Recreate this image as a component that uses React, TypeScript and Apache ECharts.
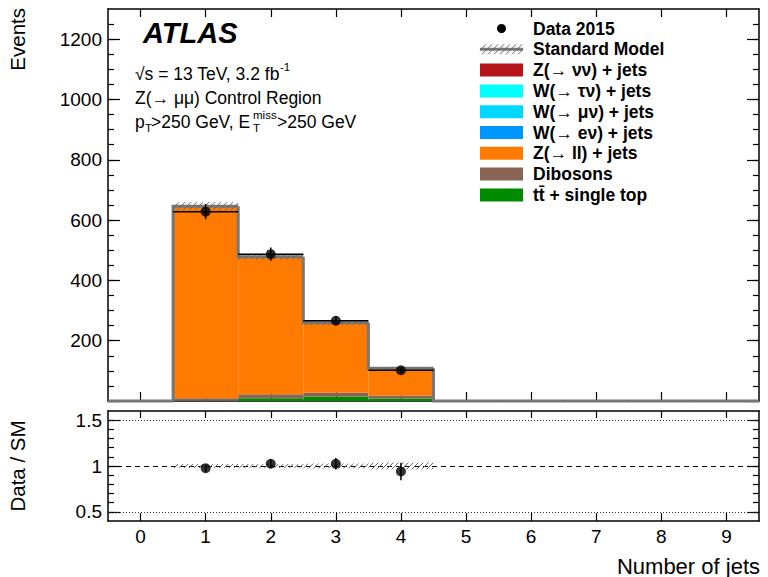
import React, { useEffect, useRef } from "react";
import * as echarts from "echarts";

// ---------------- data ----------------
const jetBins = ["0", "1", "2", "3", "4", "5", "6", "7", "8", "9"];
const ttbarSingleTop = [0, 1, 9, 14, 8, 0, 0, 0, 0, 0];
const dibosons = [0, 8, 13, 13, 10, 0, 0, 0, 0, 0];
const zllJets = [0, 636, 456, 232, 90, 0, 0, 0, 0, 0];
const wenuJets = [0, 0, 0, 0, 0, 0, 0, 0, 0, 0];
const wmunuJets = [0, 0.6, 0.5, 0.4, 0.2, 0, 0, 0, 0, 0];
const wtaunuJets = [0, 0, 0, 0, 0, 0, 0, 0, 0, 0];
const znunuJets = [0, 0, 0, 0, 0, 0, 0, 0, 0, 0];
const smUncertainty = [0, 14, 10, 7, 4, 0, 0, 0, 0, 0];

const dataBins = [1, 2, 3, 4];
const dataEvents = [628, 487, 266, 102];
const dataErrors = [25, 22, 16, 10];
const ratioValues = [0.975, 1.025, 1.025, 0.94];
const ratioErrors = [0.04, 0.046, 0.063, 0.095];

const eventTickLabels = [200, 400, 600, 800, 1000, 1200];
const eventMinorTicks = [50, 100, 150, 200, 250, 300, 350, 400, 450, 500, 550, 600, 650, 700, 750, 800, 850, 900, 950, 1000, 1050, 1100, 1150, 1200, 1250];
const ratioTickLabels = [0.5, 1, 1.5];
const ratioMinorTicks = [0.5, 0.6, 0.7, 0.8, 0.9, 1, 1.1, 1.2, 1.3, 1.4, 1.5];

// ---------------- styles ----------------
const FONT = "Liberation Sans";
const colors = {
  znunu: "#b4141a",
  wtaunu: "#00ffff",
  wmunu: "#00d8ff",
  wenu: "#0096ff",
  zll: "#ff7a00",
  diboson: "#8a6454",
  ttbar: "#008a00",
  sm: "#777777",
  hatch: "#666666",
};

// stacking order: bottom first
const stackComponents = [
  { name: "tt̄ + single top", values: ttbarSingleTop, color: colors.ttbar },
  { name: "Dibosons", values: dibosons, color: colors.diboson },
  { name: "Z(→ ll) + jets", values: zllJets, color: colors.zll },
  { name: "W(→ eν) + jets", values: wenuJets, color: colors.wenu },
  { name: "W(→ μν) + jets", values: wmunuJets, color: colors.wmunu },
  { name: "W(→ τν) + jets", values: wtaunuJets, color: colors.wtaunu },
  { name: "Z(→ νν) + jets", values: znunuJets, color: colors.znunu },
];

function hatchLines(x0: number, x1: number, yT: number, yB: number, step: number, stroke: string) {
  const h = yB - yT;
  const out: any[] = [];
  if (h <= 0.5) return out;
  for (let xb = x0 - h; xb < x1; xb += step) {
    const sx = Math.max(xb, x0);
    const ex = Math.min(xb + h, x1);
    if (ex - sx < 0.5) continue;
    out.push({
      type: "line",
      shape: { x1: sx, y1: yB - (sx - xb), x2: ex, y2: yB - (ex - xb) },
      style: { stroke, lineWidth: 1 },
    });
  }
  return out;
}

const axisLineStyle = { color: "#000", width: 1.5 };
const tickLineStyle = { color: "#000", width: 1.2 };
const labelStyle = { fontSize: 19, fontFamily: FONT, color: "#000" };

function xAx(grid: number, position: string, tickLen: number, showLabel: boolean) {
  return {
    type: "category",
    gridIndex: grid,
    data: jetBins,
    position,
    boundaryGap: true,
    axisLine: { show: true, onZero: false, lineStyle: axisLineStyle },
    axisTick: { show: true, inside: true, alignWithLabel: true, length: tickLen, lineStyle: tickLineStyle },
    axisLabel: { show: showLabel, margin: 6, ...labelStyle },
    splitLine: { show: false },
  };
}

function yAx(grid: number, position: string, min: number, max: number, ticks: number[], tickLen: number, labels: number[] | null, showLine: boolean) {
  return {
    type: "value",
    gridIndex: grid,
    position,
    min,
    max,
    axisLine: { show: showLine, lineStyle: axisLineStyle },
    axisTick: { show: true, inside: true, length: tickLen, customValues: ticks, lineStyle: tickLineStyle },
    axisLabel: labels
      ? { show: true, customValues: labels, margin: 6, formatter: (v: number) => String(v), ...labelStyle }
      : { show: false },
    splitLine: { show: false },
  };
}

export default function App() {
  const ref = useRef<HTMLDivElement>(null);

  useEffect(() => {
    if (!ref.current) return;
    const chart = echarts.init(ref.current, null, { renderer: "svg" });

    const sm = jetBins.map((_, i) => stackComponents.reduce((s, c) => s + c.values[i], 0));
    const outlineData = sm.map((v, i) => [i, v, i > 0 ? sm[i - 1] : 0]);
    const bandData = sm.map((v, i) => [i, v - smUncertainty[i], v + smUncertainty[i]]);
    const ratioBandData = sm.map((v, i) => [i, v > 0 ? 1 - smUncertainty[i] / v : 1, v > 0 ? 1 + smUncertainty[i] / v : 1]);

    const legendRows = [
      "Data 2015",
      "Standard Model",
      "Z(→ νν) + jets",
      "W(→ τν) + jets",
      "W(→ μν) + jets",
      "W(→ eν) + jets",
      "Z(→ ll) + jets",
      "Dibosons",
      "tt̄ + single top",
    ];
    const legendColors: Record<string, string> = {
      "Z(→ νν) + jets": colors.znunu,
      "W(→ τν) + jets": colors.wtaunu,
      "W(→ μν) + jets": colors.wmunu,
      "W(→ eν) + jets": colors.wenu,
      "Z(→ ll) + jets": colors.zll,
      Dibosons: colors.diboson,
      "tt̄ + single top": colors.ttbar,
    };
    const legendGraphics: any[] = [];
    legendRows.forEach((name, k) => {
      const cy = 28.5 + 20.8 * k;
      legendGraphics.push({
        type: "text",
        x: 533,
        y: cy,
        style: { text: name, fontSize: 17.5, fontWeight: "bold", fontFamily: FONT, fill: "#000", verticalAlign: "middle" },
      });
      if (k === 0) {
        legendGraphics.push({ type: "circle", shape: { cx: 501.5, cy, r: 4.5 }, style: { fill: "#000" } });
      } else if (k === 1) {
        legendGraphics.push({ type: "line", shape: { x1: 480, y1: cy, x2: 523, y2: cy }, style: { stroke: colors.sm, lineWidth: 3 } });
        hatchLines(480, 523, cy - 5, cy + 5, 6, colors.hatch).forEach((l) => legendGraphics.push(l));
      } else {
        legendGraphics.push({
          type: "rect",
          shape: { x: 480, y: cy - 6.5, width: 43, height: 13 },
          style: { fill: legendColors[name] },
        });
      }
    });

    const txt = (text: string, x: number, y: number, size: number, extra: any = {}) => ({
      type: "text",
      x,
      y,
      style: { text, fontSize: size, fontFamily: FONT, fill: "#000", verticalAlign: "middle", ...extra },
    });

    const infoGraphics = [
      txt("ATLAS", 143, 32.5, 29, { fontWeight: "bold", fontStyle: "italic" }),
      txt("√s = 13 TeV, 3.2 fb", 135, 73.5, 17.5),
      txt("-1", 280, 67, 11.5),
      txt("Z(→ μμ) Control Region", 135, 97.5, 17.5),
      txt("p", 135, 121.5, 17.5),
      txt("T", 145, 128, 11.5),
      txt(">250 GeV, E", 151, 121.5, 17.5),
      txt("miss", 253, 115, 11.5),
      txt("T", 253, 128, 11.5),
      txt(">250 GeV", 277, 121.5, 17.5),
      { type: "text", x: 17, y: 8, rotation: Math.PI / 2, style: { text: "Events", fontSize: 20.5, fontFamily: FONT, fill: "#000", align: "right", verticalAlign: "middle" } },
      { type: "text", x: 17, y: 466, rotation: Math.PI / 2, style: { text: "Data / SM", fontSize: 20.5, fontFamily: FONT, fill: "#000", align: "center", verticalAlign: "middle" } },
      txt("Number of jets", 760, 566, 22, { align: "right" }),
    ];

    const option: any = {
      animation: false,
      backgroundColor: "#fff",
      grid: [
        { left: 108, top: 9, width: 651, height: 392 },
        { left: 108, top: 411, width: 651, height: 110 },
      ],
      xAxis: [xAx(0, "bottom", 9, false), xAx(0, "top", 8, false), xAx(1, "bottom", 8, true), xAx(1, "top", 7, false)],
      yAxis: [
        yAx(0, "left", 0, 1300, [0, ...eventTickLabels], 12, eventTickLabels, true),
        yAx(0, "left", 0, 1300, eventMinorTicks, 6, null, false),
        yAx(0, "right", 0, 1300, [0, ...eventTickLabels], 12, null, true),
        yAx(0, "right", 0, 1300, eventMinorTicks, 6, null, false),
        yAx(1, "left", 0.4, 1.6, ratioTickLabels, 12, ratioTickLabels, true),
        yAx(1, "left", 0.4, 1.6, ratioMinorTicks, 6, null, false),
        yAx(1, "right", 0.4, 1.6, ratioTickLabels, 12, null, true),
        yAx(1, "right", 0.4, 1.6, ratioMinorTicks, 6, null, false),
      ],
      graphic: { elements: [...infoGraphics, ...legendGraphics] },
      series: [
        ...stackComponents.map((c) => ({
          type: "bar",
          name: c.name,
          xAxisIndex: 0,
          yAxisIndex: 0,
          stack: "sm",
          barWidth: "100%",
          barCategoryGap: "0%",
          data: c.values,
          itemStyle: { color: c.color },
          silent: true,
          z: 2,
        })),
        {
          type: "custom",
          name: "SM outline",
          xAxisIndex: 0,
          yAxisIndex: 0,
          data: outlineData,
          encode: { x: 0, y: 1 },
          silent: true,
          z: 3,
          renderItem: (params: any, api: any) => {
            const i = api.value(0);
            const p = api.coord([i, api.value(1)]);
            const pp = api.coord([i, api.value(2)]);
            const w = api.size([1, 0])[0];
            const xl = p[0] - w / 2;
            const xr = p[0] + w / 2;
            return {
              type: "polyline",
              shape: { points: [[xl, pp[1]], [xl, p[1]], [xr, p[1]]] },
              style: { stroke: colors.sm, lineWidth: 3, fill: null },
            };
          },
        },
        {
          type: "custom",
          name: "Standard Model",
          xAxisIndex: 0,
          yAxisIndex: 0,
          data: bandData,
          encode: { x: 0, y: [1, 2] },
          silent: true,
          z: 4,
          renderItem: (params: any, api: any) => {
            const i = api.value(0);
            const lo = api.coord([i, api.value(1)]);
            const hi = api.coord([i, api.value(2)]);
            const w = api.size([1, 0])[0];
            return { type: "group", children: hatchLines(lo[0] - w / 2, lo[0] + w / 2, hi[1], lo[1], 6, colors.hatch) };
          },
        },
        {
          type: "custom",
          name: "Data errors",
          xAxisIndex: 0,
          yAxisIndex: 0,
          data: dataBins.map((b, k) => [b, dataEvents[k], dataErrors[k]]),
          encode: { x: 0, y: 1 },
          silent: true,
          z: 5,
          renderItem: (params: any, api: any) => {
            const i = api.value(0);
            const v = api.value(1);
            const e = api.value(2);
            const c = api.coord([i, v]);
            const top = api.coord([i, v + e]);
            const bot = api.coord([i, v - e]);
            const w = api.size([1, 0])[0];
            const st = { stroke: "#000", lineWidth: 1.5 };
            return {
              type: "group",
              children: [
                { type: "line", shape: { x1: c[0] - w / 2, y1: c[1], x2: c[0] + w / 2, y2: c[1] }, style: st },
                { type: "line", shape: { x1: c[0], y1: top[1], x2: c[0], y2: bot[1] }, style: st },
              ],
            };
          },
        },
        {
          type: "scatter",
          name: "Data 2015",
          xAxisIndex: 0,
          yAxisIndex: 0,
          data: dataBins.map((b, k) => [b, dataEvents[k]]),
          symbol: "circle",
          symbolSize: 10,
          itemStyle: { color: "#000" },
          silent: true,
          z: 6,
        },
        // ratio panel
        {
          type: "custom",
          name: "SM band ratio",
          xAxisIndex: 2,
          yAxisIndex: 4,
          data: ratioBandData,
          encode: { x: 0, y: [1, 2] },
          silent: true,
          z: 4,
          renderItem: (params: any, api: any) => {
            const i = api.value(0);
            const lo = api.coord([i, api.value(1)]);
            const hi = api.coord([i, api.value(2)]);
            const w = api.size([1, 0])[0];
            return { type: "group", children: hatchLines(lo[0] - w / 2, lo[0] + w / 2, hi[1], lo[1], 5, colors.hatch) };
          },
        },
        {
          type: "custom",
          name: "Ratio errors",
          xAxisIndex: 2,
          yAxisIndex: 4,
          data: dataBins.map((b, k) => [b, ratioValues[k], ratioErrors[k]]),
          encode: { x: 0, y: 1 },
          silent: true,
          z: 5,
          renderItem: (params: any, api: any) => {
            const i = api.value(0);
            const v = api.value(1);
            const e = api.value(2);
            const top = api.coord([i, v + e]);
            const bot = api.coord([i, v - e]);
            return {
              type: "line",
              shape: { x1: top[0], y1: top[1], x2: bot[0], y2: bot[1] },
              style: { stroke: "#000", lineWidth: 1.5 },
            };
          },
        },
        {
          type: "scatter",
          name: "Data / SM",
          xAxisIndex: 2,
          yAxisIndex: 4,
          data: dataBins.map((b, k) => [b, ratioValues[k]]),
          symbol: "circle",
          symbolSize: 10,
          itemStyle: { color: "#000" },
          silent: true,
          z: 6,
          markLine: {
            silent: true,
            symbol: "none",
            label: { show: false },
            z: 3,
            data: [
              { yAxis: 1, lineStyle: { type: [5, 4], color: "#000", width: 1 } },
              { yAxis: 1.5, lineStyle: { type: [1, 2], color: "#333", width: 1 } },
              { yAxis: 0.5, lineStyle: { type: [1, 2], color: "#333", width: 1 } },
            ],
          },
        },
      ],
    };

    chart.setOption(option);
    return () => chart.dispose();
  }, []);

  return (
    <div
      ref={ref}
      style={{ position: "fixed", left: 0, top: 0, width: 768, height: 577, background: "#fff" }}
    />
  );
}
